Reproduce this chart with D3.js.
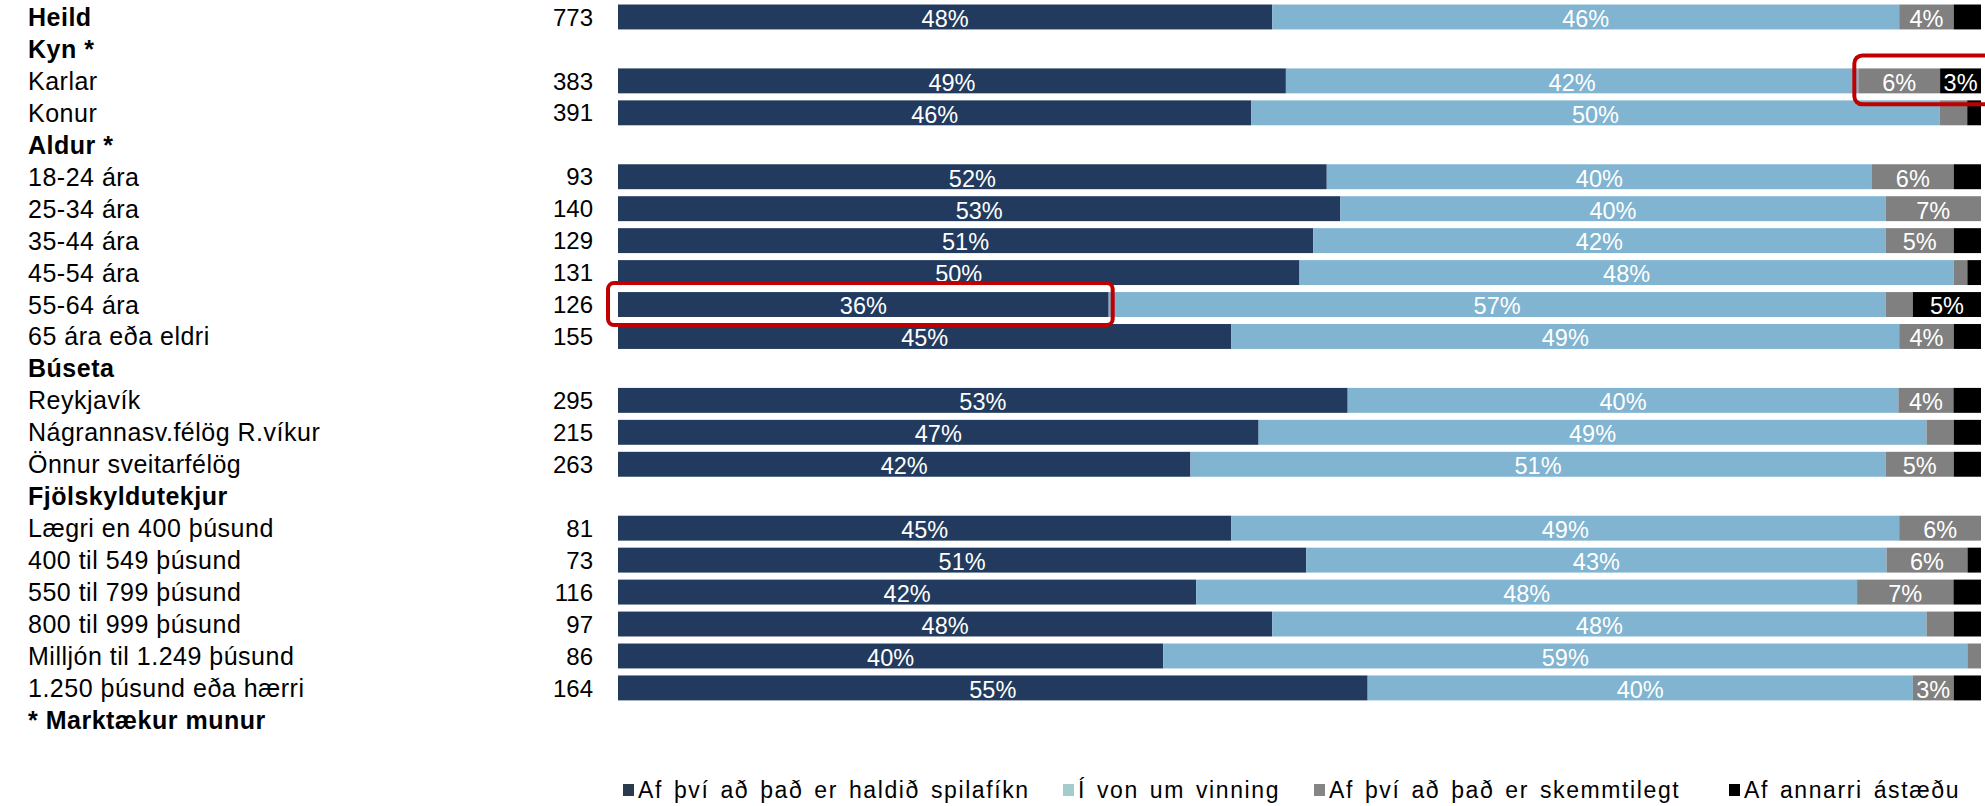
<!DOCTYPE html>
<html>
<head>
<meta charset="utf-8">
<script src="https://cdn.jsdelivr.net/npm/d3@7"></script>
<style>
  html, body { margin: 0; padding: 0; background: #fff; }
  svg { display: block; }
  text { font-family: "Liberation Sans", Arial, sans-serif; }
</style>
</head>
<body>
<svg id="chart" width="1985" height="806"></svg>
<script>
// Row labels (group headers have no bar)
const categories = [
  "Heild", "Kyn *", "Karlar", "Konur", "Aldur *",
  "18-24 ára", "25-34 ára", "35-44 ára", "45-54 ára", "55-64 ára", "65 ára eða eldri",
  "Búseta", "Reykjavík", "Nágrannasv.félög R.víkur", "Önnur sveitarfélög",
  "Fjölskyldutekjur", "Lægri en 400 þúsund", "400 til 549 þúsund", "550 til 799 þúsund",
  "800 til 999 þúsund", "Milljón til 1.249 þúsund", "1.250 þúsund eða hærri",
  "* Marktækur munur"
];
const boldRows = ["Heild", "Kyn *", "Aldur *", "Búseta", "Fjölskyldutekjur", "* Marktækur munur"];

// Number of respondents per row
const counts = [773, null, 383, 391, null, 93, 140, 129, 131, 126, 155, null, 295, 215, 263,
  null, 81, 73, 116, 97, 86, 164, null];

// Share of answers (%) per reason
const seriesNames = ["Af því að það er haldið spilafíkn", "Í von um vinning",
  "Af því að það er skemmtilegt", "Af annarri ástæðu"];
const spilafikn   = [48, null, 49, 46, null, 52, 53, 51, 50, 36, 45, null, 53, 47, 42, null, 45, 51, 42, 48, 40, 55, null];
const vinning     = [46, null, 42, 50, null, 40, 40, 42, 48, 57, 49, null, 40, 49, 51, null, 49, 43, 48, 48, 59, 40, null];
const skemmtilegt = [ 4, null,  6,  2, null,  6,  7,  5,  1,  2,  4, null,  4,  2,  5, null,  6,  6,  7,  2,  1,  3, null];
const annad       = [ 2, null,  3,  1, null,  2,  0,  2,  1,  5,  2, null,  2,  2,  2, null,  0,  1,  2,  2,  0,  2, null];

const colors = ["#213a5e", "#80b4d0", "#808080", "#000000"];
const legendColors = ["#2c3a4e", "#a4cccc", "#858585", "#000000"];

// Layout
const labelX = 28, countX = 593;
const barLeft = 618, barRight = 1981;
const rowTop = 1, rowStep = 31.95;
const legendY = 790;
const legendX = [623, 1063, 1314, 1729];

const svg = d3.select("#chart");

const y = d3.scaleBand()
  .domain(d3.range(categories.length))
  .range([rowTop, rowTop + rowStep * categories.length])
  .paddingInner(0.22).paddingOuter(0.11);

const x = d3.scaleLinear().domain([0, 1]).range([barLeft, barRight]);

const keys = ["a", "b", "c", "d"];
const table = categories.map((c, i) => ({
  i, a: spilafikn[i], b: vinning[i], c: skemmtilegt[i], d: annad[i]
})).filter(r => r.a !== null);

// Each row is normalised to its own total so the bars span the full width
const stack = d3.stack().keys(keys).offset(d3.stackOffsetExpand);
const layers = stack(table);

// Row labels
svg.append("g").selectAll("text")
  .data(categories)
  .join("text")
  .attr("x", labelX)
  .attr("y", (d, i) => y(i) + y.bandwidth() / 2)
  .attr("dy", "0.36em")
  .attr("font-size", 25)
  .attr("letter-spacing", 0.5)
  .attr("font-weight", d => boldRows.includes(d) ? "bold" : "normal")
  .attr("fill", "#000")
  .text(d => d);

// Respondent counts
svg.append("g").selectAll("text")
  .data(counts.map((n, i) => ({ n, i })).filter(d => d.n !== null))
  .join("text")
  .attr("x", countX)
  .attr("y", d => y(d.i) + y.bandwidth() / 2)
  .attr("dy", "0.36em")
  .attr("text-anchor", "end")
  .attr("font-size", 24)
  .attr("fill", "#000")
  .text(d => d.n);

// Stacked bars
const g = svg.append("g");
layers.forEach((layer, k) => {
  g.append("g").attr("fill", colors[k])
    .selectAll("rect")
    .data(layer)
    .join("rect")
    .attr("x", d => x(d[0]))
    .attr("width", d => Math.max(0, x(d[1]) - x(d[0])))
    .attr("y", d => y(d.data.i))
    .attr("height", y.bandwidth());
});

// Segment value labels (segments of 3% and above)
layers.forEach((layer, k) => {
  g.append("g").selectAll("text")
    .data(layer.filter(d => d.data[keys[k]] >= 3))
    .join("text")
    .attr("x", d => (x(d[0]) + x(d[1])) / 2)
    .attr("y", d => y(d.data.i) + y.bandwidth() / 2)
    .attr("dy", "0.42em")
    .attr("text-anchor", "middle")
    .attr("font-size", 23.5)
    .attr("fill", "#fff")
    .text(d => d.data[keys[k]] + "%");
});

// Highlight frames
const hl = svg.append("g").attr("fill", "none").attr("stroke", "#c00000").attr("stroke-width", 4);
const iK = categories.indexOf("Karlar");
const rowK = layers[2].find(d => d.data.i === iK);
hl.append("rect")
  .attr("x", x(rowK[0]) - 4).attr("y", y(iK) - 13)
  .attr("width", barRight + 20 - x(rowK[0])).attr("height", y.bandwidth() + 24)
  .attr("rx", 8);
const i55 = categories.indexOf("55-64 ára");
const row55 = layers[0].find(d => d.data.i === i55);
hl.append("rect")
  .attr("x", x(row55[0]) - 10).attr("y", y(i55) - 9)
  .attr("width", x(row55[1]) - x(row55[0]) + 14).attr("height", y.bandwidth() + 17)
  .attr("rx", 6);

// Legend
const leg = svg.append("g").selectAll("g")
  .data(seriesNames)
  .join("g")
  .attr("transform", (d, i) => `translate(${legendX[i]},${legendY})`);
leg.append("rect").attr("x", 0).attr("y", -6).attr("width", 11).attr("height", 12)
  .attr("fill", (d, i) => legendColors[i]);
leg.append("text").attr("x", 15).attr("dy", "0.36em")
  .attr("font-size", 23).attr("letter-spacing", 1.6).attr("word-spacing", 3)
  .attr("fill", "#000")
  .text(d => d);
</script>
</body>
</html>
